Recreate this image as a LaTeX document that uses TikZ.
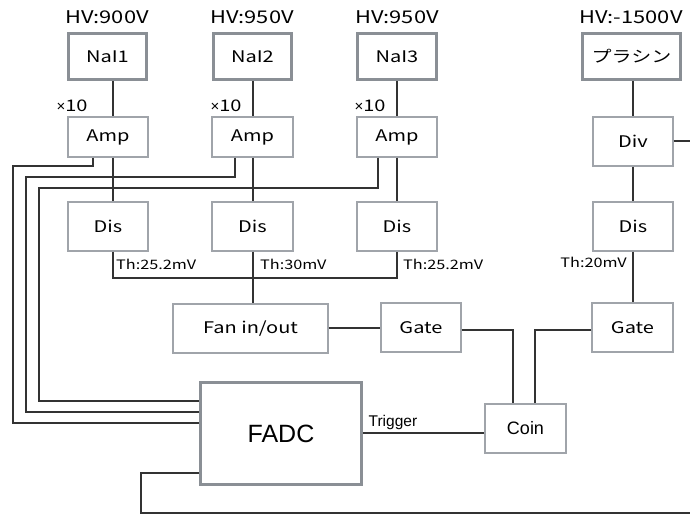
\documentclass[tikz,border=0pt]{standalone}
\usepackage{fontspec}
\setmainfont[FakeStretch=1.25]{Noto Sans CJK JP}
\newfontfamily\arialf{Liberation Sans}
\definecolor{boxgray}{HTML}{A0A4AA}
\definecolor{thickgray}{HTML}{8A8F95}
\definecolor{wire}{HTML}{333333}
\tikzset{
  blk/.style={draw=boxgray, line width=1.1pt, fill=white, inner sep=0pt, font=\fontsize{16}{18}\selectfont},
  thk/.style={draw=thickgray, line width=3pt, fill=white, inner sep=0pt, font=\fontsize{16}{18}\selectfont},
  wir/.style={draw=wire, line width=1.3pt},
  lbl/.style={inner sep=0pt, font=\fontsize{17.5}{19}\selectfont},
  mul/.style={inner sep=0pt, font=\fontsize{16}{18}\selectfont},
  th/.style={inner sep=0pt, font=\fontsize{13}{15}\selectfont},
}
\begin{document}
\begin{tikzpicture}[x=1pt,y=-1pt]
\useasboundingbox (0,0) rectangle (690,514);
% column coordinates
\coordinate (k1) at (113,0);
\coordinate (k2) at (253,0);
\coordinate (k3) at (397,0);
\coordinate (k4) at (633,0);
% detectors
\node[thk, minimum width=78pt, minimum height=46pt] (N1) at (107.5,56.5) {NaI1};
\node[thk, minimum width=78pt, minimum height=46pt] (N2) at (252.5,56.5) {NaI2};
\node[thk, minimum width=79pt, minimum height=46pt] (N3) at (397,56.5) {NaI3};
\node[thk, minimum width=98pt, minimum height=46pt] (P) at (631.5,56.5) {プラシン};
% HV labels
\node[lbl] (h1) at (107,17) {HV:900V};
\node[lbl] (h2) at (252,17) {HV:950V};
\node[lbl] (h3) at (397,17) {HV:950V};
\node[lbl] (h4) at (631,17) {HV:-1500V};
% amps
\node[blk, minimum width=80pt, minimum height=40pt] (A1) at (108,137) {Amp};
\node[blk, minimum width=81pt, minimum height=40pt] (A2) at (252.5,137) {Amp};
\node[blk, minimum width=80pt, minimum height=40pt] (A3) at (397,137) {Amp};
\node[blk, minimum width=80pt, minimum height=49pt] (Dv) at (633,141.5) {Div};
\node[mul] (x1) at (72,106) {{\arialf\fontsize{15}{17}\selectfont ×}10};
\node[mul] (x2) at (226,106) {{\arialf\fontsize{15}{17}\selectfont ×}10};
\node[mul] (x3) at (370,106) {{\arialf\fontsize{15}{17}\selectfont ×}10};
% discriminators
\node[blk, minimum width=80pt, minimum height=49pt] (D1) at (108,226.5) {Dis};
\node[blk, minimum width=81pt, minimum height=49pt] (D2) at (252.5,226.5) {Dis};
\node[blk, minimum width=80pt, minimum height=49pt] (D3) at (397,226.5) {Dis};
\node[blk, minimum width=80pt, minimum height=49pt] (D4) at (633,226.5) {Dis};
\node[th, anchor=west] (t1) at (116,264) {Th:25.2mV};
\node[th, anchor=west] (t2) at (260,264) {Th:30mV};
\node[th, anchor=west] (t3) at (403,264) {Th:25.2mV};
\node[th, anchor=east] (t4) at (627,262) {Th:20mV};
% fan, gates
\node[blk, minimum width=155pt, minimum height=49pt] (F) at (250.5,328.5) {Fan in/out};
\node[blk, minimum width=80pt, minimum height=49pt] (G1) at (421,327.5) {Gate};
\node[blk, minimum width=81pt, minimum height=49pt] (G2) at (632.5,327.5) {Gate};
% FADC, coin
\node[thk, minimum width=161pt, minimum height=102pt, font=\arialf\fontsize{25}{28}\selectfont] (FA) at (281,433.5) {FADC};
\node[blk, minimum width=81pt, minimum height=49pt, font=\arialf\fontsize{18}{20}\selectfont] (C) at (525.5,428.5) {Coin};
% helper coordinates
\coordinate (y278) at (0,278);
\coordinate (e141) at (690,141);
\coordinate (b1) at (141,473);
\coordinate (b2) at (141,513);
\coordinate (b3) at (690,513);
\coordinate (g1) at (513,330);
\coordinate (g2) at (535,330);
% wires column 1-3
\draw[wir] (N1.south -| k1) -- (A1.north -| k1);
\draw[wir] (A1.south -| k1) -- (D1.north -| k1);
\draw[wir] (N2.south -| k2) -- (A2.north -| k2);
\draw[wir] (A2.south -| k2) -- (D2.north -| k2);
\draw[wir] (N3.south -| k3) -- (A3.north -| k3);
\draw[wir] (A3.south -| k3) -- (D3.north -| k3);
\draw[wir] (D1.south -| k1) -- (y278 -| k1) -- (y278 -| k3) -- (D3.south -| k3);
\draw[wir] (D2.south -| k2) -- (F.north -| k2);
% amp outputs to FADC
\coordinate (a1) at (93,166);
\coordinate (a2) at (235,177);
\coordinate (a3) at (378,188);
\draw[wir] (A1.south -| a1) -- (a1) -- (13,166) -- (13,423) -- (FA.west |- 0,423);
\draw[wir] (A2.south -| a2) -- (a2) -- (26,177) -- (26,412) -- (FA.west |- 0,412);
\draw[wir] (A3.south -| a3) -- (a3) -- (39,188) -- (39,401) -- (FA.west |- 0,401);
% fan/gate/coin
\draw[wir] (F.east |- 0,328) -- (G1.west |- 0,328);
\draw[wir] (G1.east |- g1) -- (g1) -- (C.north -| g1);
\draw[wir] (G2.west |- g2) -- (g2) -- (C.north -| g2);
% plastic column
\draw[wir] (P.south -| k4) -- (Dv.north -| k4);
\draw[wir] (Dv.south -| k4) -- (D4.north -| k4);
\draw[wir] (D4.south -| k4) -- (G2.north -| k4);
\draw[wir] (Dv.east |- e141) -- (e141);
% trigger
\draw[wir] (FA.east |- 0,433) -- (C.west |- 0,433) node[pos=0, anchor=south west, inner sep=0pt, yshift=3pt, xshift=5pt, font=\arialf\fontsize{15.5}{17}\selectfont] (trg) {Trigger};
% bottom loop
\draw[wir] (FA.west |- b1) -- (b1) -- (b2) -- (b3);
\end{tikzpicture}
\end{document}
